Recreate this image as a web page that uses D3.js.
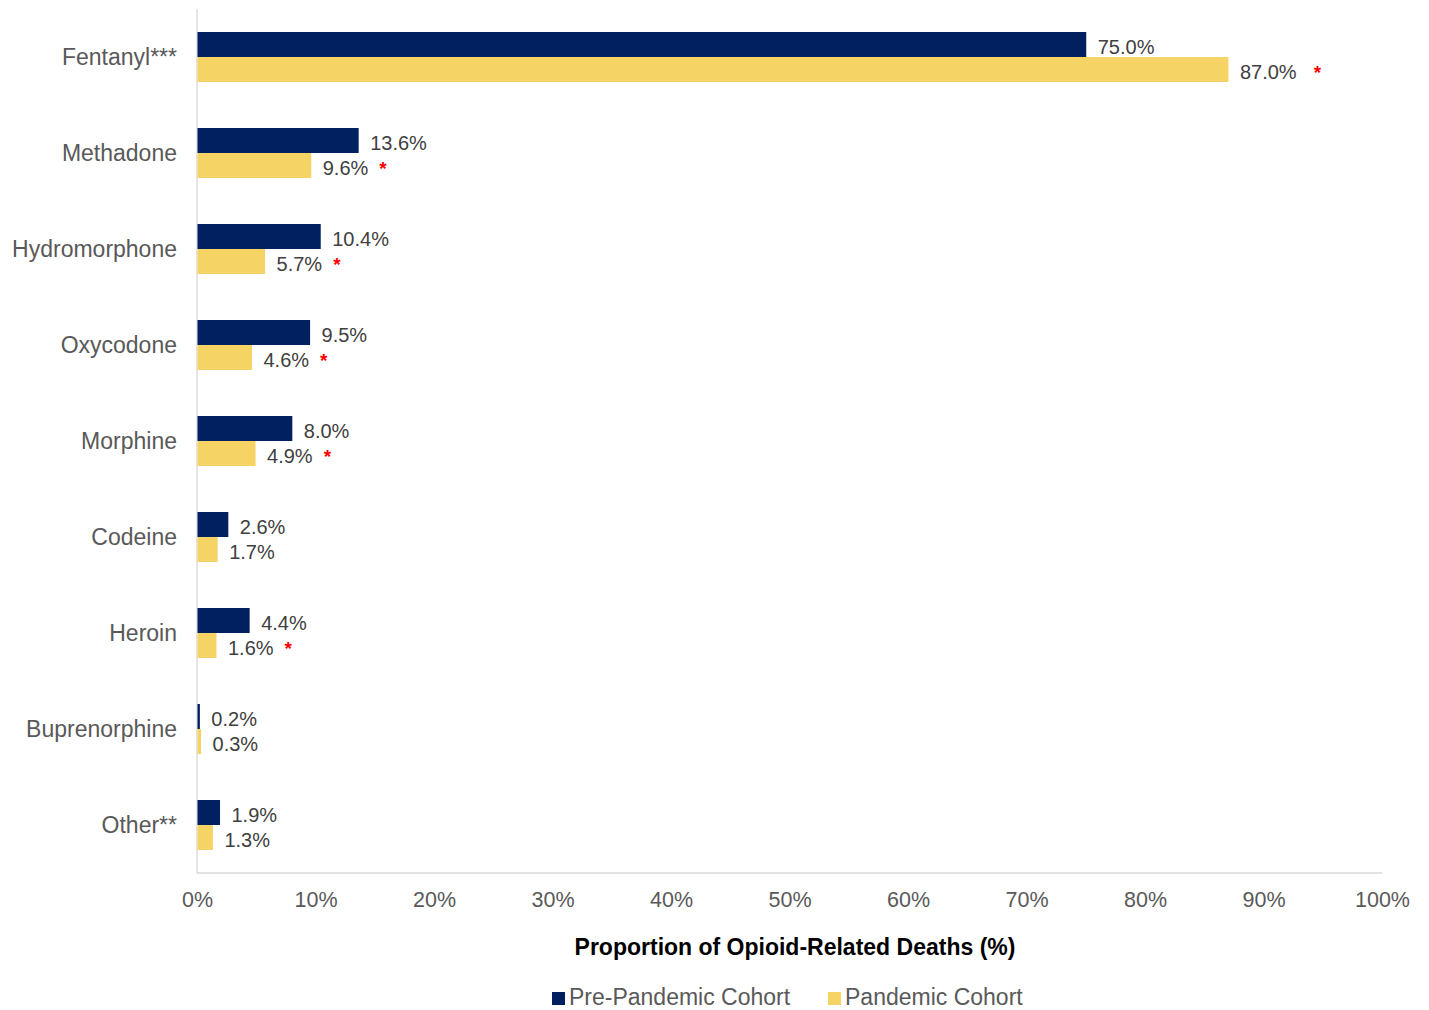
<!DOCTYPE html>
<html>
<head>
<meta charset="utf-8">
<script src="https://cdn.jsdelivr.net/npm/d3@7/dist/d3.min.js"></script>
<style>
  html, body { margin: 0; padding: 0; background: #fff; }
  text { font-family: "Liberation Sans", Arial, sans-serif; }
</style>
</head>
<body>
<svg id="chart" width="1429" height="1010"></svg>
<script>
const categories = ["Fentanyl***", "Methadone", "Hydromorphone", "Oxycodone", "Morphine", "Codeine", "Heroin", "Buprenorphine", "Other**"];
const prePandemic = [75.0, 13.6, 10.4, 9.5, 8.0, 2.6, 4.4, 0.2, 1.9];
const pandemic = [87.0, 9.6, 5.7, 4.6, 4.9, 1.7, 1.6, 0.3, 1.3];
const significant = [true, true, true, true, true, false, true, false, false];
const seriesNames = ["Pre-Pandemic Cohort", "Pandemic Cohort"];
const seriesColors = ["#002060", "#F6D365"];
const xTicks = [0, 10, 20, 30, 40, 50, 60, 70, 80, 90, 100];

(function () {
const svg = d3.select("#chart");
const pLeft = 197, pRight = 1382, pTop = 9, pBottom = 873;

const x = d3.scaleLinear().domain([0, 100]).range([pLeft, pRight]);
const y = d3.scaleBand().domain(categories).range([pTop, pBottom]).padding(0);
const barH = 25;

// axes lines
svg.append("line").attr("x1", pLeft).attr("x2", pLeft).attr("y1", pTop).attr("y2", pBottom)
  .attr("stroke", "#d9d9d9").attr("stroke-width", 1.3);
svg.append("line").attr("x1", pLeft).attr("x2", pRight).attr("y1", pBottom).attr("y2", pBottom)
  .attr("stroke", "#d9d9d9").attr("stroke-width", 1.3);

// x tick labels
const xAxis = d3.axisBottom(x).tickValues(xTicks).tickFormat(d => d + "%").tickSize(0).tickPadding(0);
const gx = svg.append("g").attr("transform", `translate(0,${pBottom})`).call(xAxis);
gx.select(".domain").remove();
gx.selectAll("text").attr("font-size", 21.5).attr("fill", "#595959")
  .attr("font-family", "Liberation Sans, Arial, sans-serif").attr("dy", null).attr("y", 34);

// category labels
const yAxis = d3.axisLeft(y).tickSize(0).tickPadding(0);
const gy = svg.append("g").attr("transform", `translate(${pLeft - 20},0)`).call(yAxis);
gy.select(".domain").remove();
gy.selectAll("text").attr("font-size", 23).attr("fill", "#595959")
  .attr("font-family", "Liberation Sans, Arial, sans-serif").attr("dy", "0.35em");

const series = [prePandemic, pandemic];
series.forEach((vals, si) => {
  const g = svg.append("g");
  g.selectAll("rect").data(categories).join("rect")
    .attr("x", pLeft + 0.5)
    .attr("y", d => y(d) + y.bandwidth() / 2 - barH + si * barH)
    .attr("width", (d, i) => Math.max(1.5, x(vals[i]) - pLeft))
    .attr("height", barH)
    .attr("fill", seriesColors[si]);
  const t = g.selectAll("text").data(categories).join("text")
    .attr("x", (d, i) => x(vals[i]) + 12)
    .attr("y", d => y(d) + y.bandwidth() / 2 - barH / 2 + si * barH + 9)
    .attr("font-size", 20).attr("fill", "#404040");
  t.append("tspan").text((d, i) => vals[i].toFixed(1) + "%");
  if (si === 1) {
    t.filter((d, i) => significant[i]).append("tspan")
      .attr("dx", (d) => d === "Fentanyl***" ? 17 : 11)
      .attr("fill", "#ff0000").attr("font-size", 19).attr("font-weight", "bold")
      .text("*");
  }
});

// axis title
svg.append("text").attr("x", 795).attr("y", 955).attr("text-anchor", "middle")
  .attr("font-size", 23).attr("font-weight", "bold").attr("fill", "#000")
  .text("Proportion of Opioid-Related Deaths (%)");

// legend
const legendX = [552, 828];
seriesNames.forEach((n, i) => {
  const lg = svg.append("g").attr("transform", `translate(${legendX[i]},1005)`);
  lg.append("rect").attr("x", 0).attr("y", -13).attr("width", 13).attr("height", 13).attr("fill", seriesColors[i]);
  lg.append("text").attr("x", 17).attr("y", 0).attr("font-size", 23).attr("fill", "#595959").text(n);
});
})();
</script>
</body>
</html>
